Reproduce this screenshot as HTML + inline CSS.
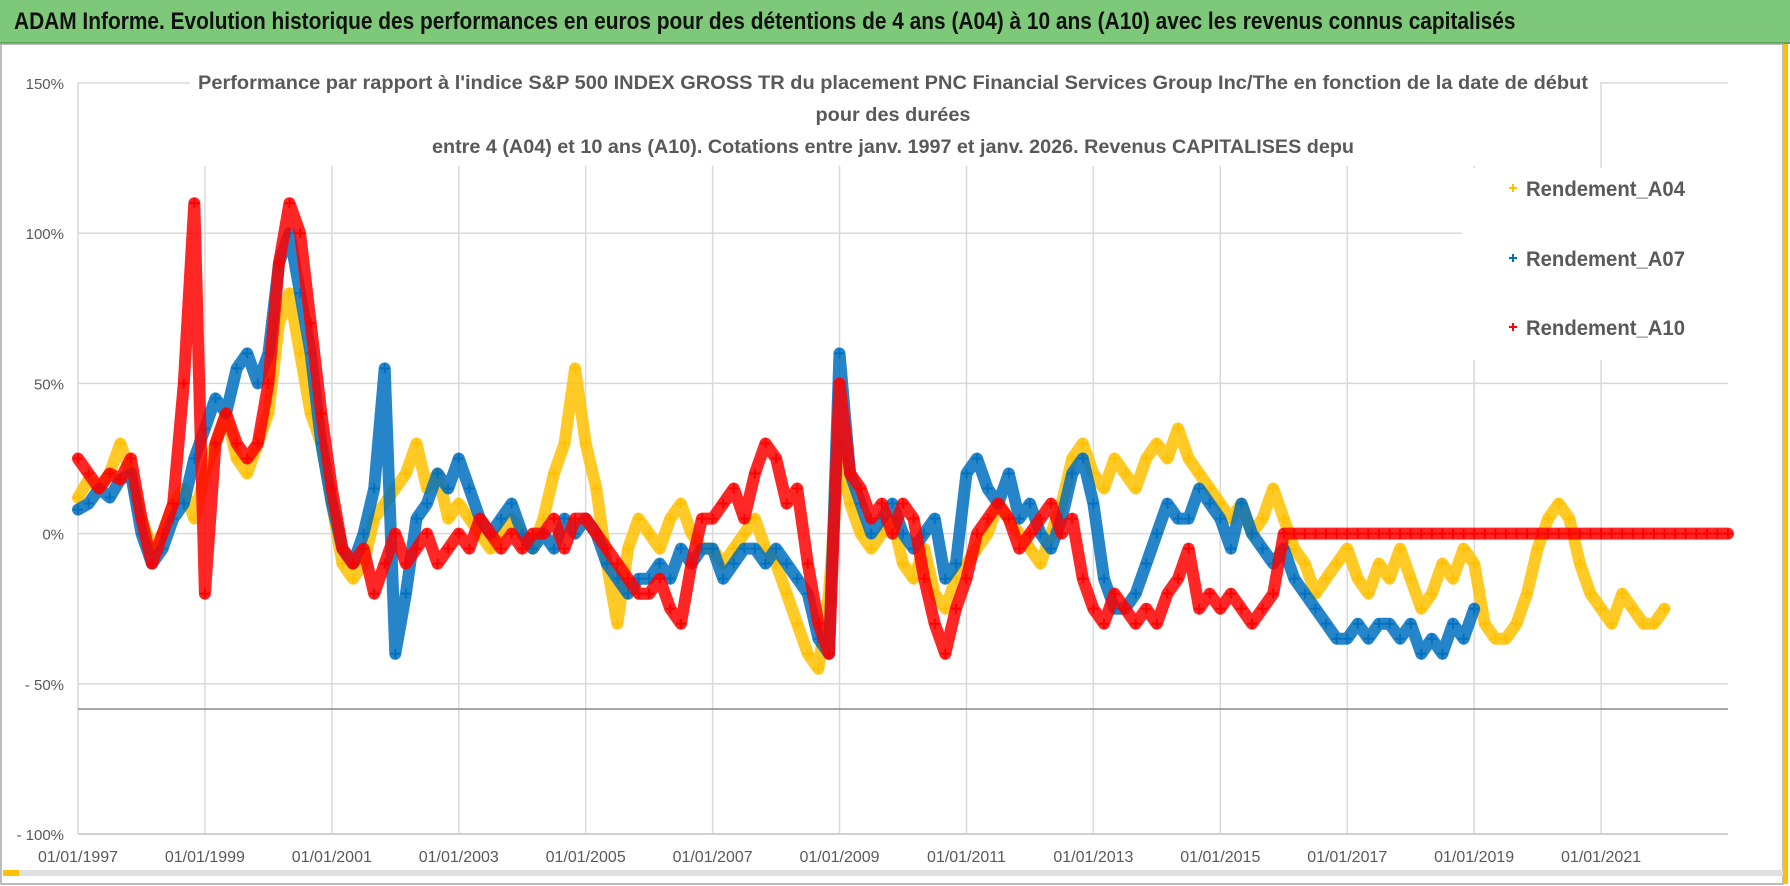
<!DOCTYPE html>
<html><head><meta charset="utf-8"><style>
html,body{margin:0;padding:0;background:#fff;}
body{width:1790px;height:886px;overflow:hidden;position:relative;font-family:"Liberation Sans",sans-serif;}
#hdr{position:absolute;left:0;top:0;width:1790px;height:42px;background:#7ec87a;border-bottom:2px solid #5aa35a;}
#hdr span{position:absolute;left:14px;top:8px;font-size:24px;font-weight:bold;color:#111;transform:scaleX(0.87);transform-origin:left;white-space:nowrap;}
svg{position:absolute;left:0;top:0;}
</style></head><body>
<div id="hdr"><span>ADAM Informe. Evolution historique des performances en euros pour des détentions de 4 ans (A04) à 10 ans (A10) avec les revenus connus capitalisés</span></div>
<svg id="chart" width="1790" height="886"></svg>
<script>
const yTicks=[150,100,50,0,-50,-100];
const tickLabels=["150%","100%","50%","0%","- 50%","- 100%"];
const xYears=[1997,1999,2001,2003,2005,2007,2009,2011,2013,2015,2017,2019,2021];
const xLabels=["01/01/1997","01/01/1999","01/01/2001","01/01/2003","01/01/2005","01/01/2007","01/01/2009","01/01/2011","01/01/2013","01/01/2015","01/01/2017","01/01/2019","01/01/2021"];
const startYear=1997, stepYears=1/6;
const a04=[12,18,15,20,30,20, 5,-5,0,10,15,5, 20,30,40,25,20,30, 40,70,80,60,40,30, 10,-10,-15,-10,5,10, 15,20,30,15,20,5, 10,5,0,-5,0,5, 0,-5,5,20,30,55, 30,15,-10,-30,-5,5, 0,-5,5,10,0,-5, -5,-10,-5,0,5,-5, -10,-20,-30,-40,-45,-20, 30,10,0,-5,0,5, -10,-15,-5,-20,-25,-15, -10,-5,0,10,5,0, -5,-10,0,10,25,30, 20,15,25,20,15,25, 30,25,35,25,20,15, 10,5,10,0,5,15, 5,-5,-10,-20,-15,-10, -5,-15,-20,-10,-15,-5, -15,-25,-20,-10,-15,-5, -10,-30,-35,-35,-30,-20, -5,5,10,5,-10,-20, -25,-30,-20,-25,-30,-30, -25];
const a07=[8,10,15,12,18,20, 0,-10,-5,5,10,25, 35,45,40,55,60,50, 60,90,100,80,60,30, 10,-5,-10,0,15,55, -40,-20,5,10,20,15, 25,15,5,0,5,10, 0,-5,0,-5,5,0, 5,0,-10,-15,-20,-15, -15,-10,-15,-5,-10,-5, -5,-15,-10,-5,-5,-10, -5,-10,-15,-20,-35,-40, 60,20,10,0,5,10, 0,-5,0,5,-15,-10, 20,25,15,10,20,5, 10,0,-5,5,20,25, 10,-15,-25,-25,-20,-10, 0,10,5,5,15,10, 5,-5,10,0,-5,-10, -5,-15,-20,-25,-30,-35, -35,-30,-35,-30,-30,-35, -30,-40,-35,-40,-30,-35, -25];
const a10=[25,20,15,20,18,25, 5,-10,0,10,50,110, -20,30,40,30,25,30, 50,90,110,100,70,40, 15,-5,-10,-5,-20,-10, 0,-10,-5,0,-10,-5, 0,-5,5,0,-5,0, -5,0,0,5,-5,5, 5,0,-5,-10,-15,-20, -20,-15,-25,-30,-10,5, 5,10,15,5,20,30, 25,10,15,-10,-30,-40, 50,20,15,5,10,0, 10,5,-15,-30,-40,-25, -15,0,5,10,5,-5, 0,5,10,0,5,-15, -25,-30,-20,-25,-30,-25, -30,-20,-15,-5,-25,-20, -25,-20,-25,-30,-25,-20, 0,0,0,0,0,0, 0,0,0,0,0,0, 0,0,0,0,0,0, 0,0,0,0,0,0, 0,0,0,0,0,0, 0,0,0,0,0,0, 0,0,0,0,0,0, 0];
const svg=document.getElementById('chart');
const NS='http://www.w3.org/2000/svg';
const L=78,R=1728,T=83,B=834;
function xs(yr){return L+(yr-1997)*(R-L)/26;}
function ys(v){return B-(v+100)*(B-T)/250;}
function mk(tag,at,parent){const e=document.createElementNS(NS,tag);for(const k in at)e.setAttribute(k,at[k]);(parent||svg).appendChild(e);return e;}
for(let i=0;i<yTicks.length;i++){
  const g=mk('line',{x1:L,x2:R,y1:ys(yTicks[i]),y2:ys(yTicks[i]),stroke:'#d9d9d9','stroke-width':1.5});
  
  
  const t=mk('text',{x:L-14,y:ys(yTicks[i])+6,'text-anchor':'end','font-size':15,fill:'#595959'});
  t.textContent=tickLabels[i];
  
  
}
for(let i=0;i<xYears.length;i++){
  const g=mk('line',{x1:xs(xYears[i]),x2:xs(xYears[i]),y1:T,y2:B,stroke:'#d9d9d9','stroke-width':1.5});
  
  
  const t=mk('text',{x:xs(xYears[i]),y:B+28,'text-anchor':'middle','font-size':16,fill:'#595959'});
  t.textContent=xLabels[i];
  
  
}
mk('line',{x1:L,x2:R,y1:B,y2:B,stroke:'#d0d0d0','stroke-width':2});
const ex=mk('line',{x1:L,x2:R,y1:709,y2:709,stroke:'#8c8c8c','stroke-width':1.5});


mk('rect',{x:190,y:66,width:1410,height:100,fill:'#fff'});
const titles=["Performance par rapport à l'indice S&P 500 INDEX GROSS TR  du placement PNC Financial Services Group Inc/The en fonction de la date de début","pour des durées","entre 4 (A04) et 10 ans (A10).  Cotations entre janv. 1997 et janv. 2026. Revenus CAPITALISES depu"];
const ty=[89,121,153];
for(let i=0;i<3;i++){
  const t=mk('text',{x:893,y:ty[i],'text-anchor':'middle','font-size':19,'font-weight':'bold',fill:'#595959',textLength:i==0?1390:(i==1?155:922),lengthAdjust:'spacingAndGlyphs'});
  t.textContent=titles[i];
  
  
}
mk('rect',{x:1462,y:168,width:266,height:192,fill:'#fff'});
function series(arr,color,name){
  const g=mk('g',{});
  
  
  let pts=[];
  for(let i=0;i<arr.length;i++){pts.push(xs(startYear+i*stepYears).toFixed(1)+','+ys(arr[i]).toFixed(1));}
  mk('polyline',{points:pts.join(' '),fill:'none',stroke:color,'stroke-width':12,'stroke-opacity':0.85,'stroke-linejoin':'round','stroke-linecap':'round'},g);
  for(let i=0;i<arr.length;i++){
    const x=xs(startYear+i*stepYears),y=ys(arr[i]);
    const p=mk('path',{d:`M${x-5},${y}H${x+5}M${x},${y-5}V${y+5}`,stroke:color,'stroke-width':2},g);
    
    
  }
}
series(a04,'#ffc000','series-a04');
series(a07,'#0070c0','series-a07');
series(a10,'#ff0000','series-a10');
const leg=[['Rendement_A04','#ffc000',188],['Rendement_A07','#0070c0',258],['Rendement_A10','#ff0000',327]];
for(const [n,c,y] of leg){
  const g=mk('g',{});
  
  
  mk('path',{d:`M${1509},${y}H${1517}M${1513},${y-4}V${y+4}`,stroke:c,'stroke-width':2},g);
  const t=mk('text',{x:1526,y:y+8,'font-size':21,'font-weight':'bold',fill:'#595959',textLength:159,lengthAdjust:'spacingAndGlyphs'},g);
  t.textContent=n;
}
mk('rect',{x:1,y:44,width:1782,height:840,fill:'none',stroke:'#a6a6a6','stroke-width':1.5});
mk('rect',{x:3,y:870,width:1780,height:6,fill:'#e0e0e0'});
mk('rect',{x:3,y:870,width:16,height:6,fill:'#ffc000'});
mk('rect',{x:1784,y:44,width:4,height:840,fill:'#ffc000'});
</script>
</body></html>
